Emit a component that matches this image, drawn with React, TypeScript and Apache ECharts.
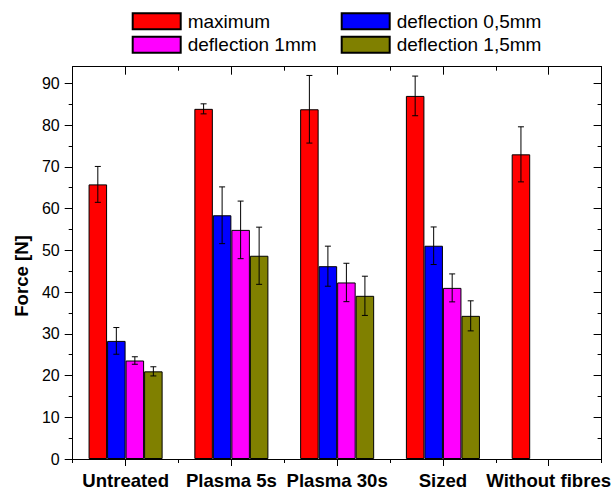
import React, { useEffect, useRef } from "react";
import * as echarts from "echarts";

// Sample groups along the x axis
const categories = ["Untreated", "Plasma 5s", "Plasma 30s", "Sized", "Without fibres"];

// Mean force [N] per group and its standard deviation
const maximum = [65.8, 83.9, 83.8, 87.0, 73.0];
const maximumErr = [4.3, 1.2, 8.1, 4.75, 6.6];
const deflection05 = [28.3, 58.4, 46.2, 51.1, null];
const deflection05Err = [3.2, 6.8, 4.8, 4.5, null];
const deflection1 = [23.6, 54.9, 42.3, 41.0, null];
const deflection1Err = [0.9, 6.9, 4.6, 3.35, null];
const deflection15 = [21.0, 48.7, 39.1, 34.3, null];
const deflection15Err = [1.1, 6.85, 4.7, 3.6, null];

// Y axis ticks
const yMajorTicks = [0, 10, 20, 30, 40, 50, 60, 70, 80, 90];
const yMinorTicks = [5, 15, 25, 35, 45, 55, 65, 75, 85];

const seriesNames = ["maximum", "deflection 0,5mm", "deflection 1mm", "deflection 1,5mm"];
const seriesColors = ["#ff0000", "#0000ff", "#ff00ff", "#808000"];

const FONT = "'Liberation Sans', Arial, Helvetica, sans-serif";
const BAR_SLOTS = 4;
const BAND_FILL = 0.7;

function errorSeries(values: (number | null)[], errs: (number | null)[], slot: number) {
  const data = values
    .map((v, i) => (v == null || errs[i] == null ? null : [i, v - (errs[i] as number), v + (errs[i] as number)]))
    .filter((d) => d !== null);
  return {
    type: "custom",
    xAxisIndex: 0,
    yAxisIndex: 0,
    z: 10,
    silent: true,
    data,
    encode: { x: 0, y: [1, 2] },
    renderItem: (_params: any, api: any) => {
      const idx = api.value(0);
      const lo = api.coord([idx, api.value(1)]);
      const hi = api.coord([idx, api.value(2)]);
      const band = api.size([1, 0])[0];
      const bw = (band * BAND_FILL) / BAR_SLOTS;
      const cx = lo[0] + (slot - (BAR_SLOTS - 1) / 2) * bw;
      const cap = 3;
      const style = { stroke: "#000", lineWidth: 1 };
      return {
        type: "group",
        children: [
          { type: "line", shape: { x1: cx, y1: lo[1], x2: cx, y2: hi[1] }, style },
          { type: "line", shape: { x1: cx - cap, y1: hi[1], x2: cx + cap, y2: hi[1] }, style },
          { type: "line", shape: { x1: cx - cap, y1: lo[1], x2: cx + cap, y2: lo[1] }, style },
        ],
      };
    },
  };
}

function barSeries(name: string, values: (number | null)[], color: string) {
  return {
    name,
    type: "bar",
    xAxisIndex: 0,
    yAxisIndex: 0,
    data: values,
    barGap: "0%",
    barCategoryGap: "30%",
    itemStyle: { color, borderColor: "#000", borderWidth: 1 },
  };
}

const lineStyle = { color: "#000", width: 1 };

export default function App() {
  const ref = useRef<HTMLDivElement>(null);

  useEffect(() => {
    if (!ref.current) return;
    const chart = echarts.init(ref.current, null, { renderer: "svg" });

    const yBase = {
      type: "value",
      min: 0,
      max: 94,
      interval: 10,
      splitLine: { show: false },
    };

    const xBase = {
      type: "category",
      data: categories,
      splitLine: { show: false },
    };

    const legendBase = {
      orient: "vertical",
      top: 6.8,
      icon: "rect",
      itemWidth: 48,
      itemHeight: 16,
      itemGap: 4.4,
      textStyle: { fontFamily: FONT, fontSize: 19, color: "#000", padding: [0, 0, 0, 2] },
      selectedMode: false,
    };

    chart.setOption({
      animation: false,
      backgroundColor: "#fff",
      grid: { left: 72.7, right: 11.3, top: 66.7, bottom: 31, containLabel: false },
      legend: [
        { ...legendBase, left: 126.7, data: [seriesNames[0], seriesNames[2]] },
        { ...legendBase, left: 335.7, data: [seriesNames[1], seriesNames[3]] },
      ],
      xAxis: [
        {
          ...xBase,
          position: "bottom",
          axisLine: { show: true, onZero: false, lineStyle },
          axisTick: { show: true, alignWithLabel: true, length: 7, inside: false, lineStyle },
          axisLabel: {
            show: true,
            interval: 0,
            margin: 12,
            fontFamily: FONT,
            fontSize: 18.6,
            fontWeight: "bold",
            color: "#000",
          },
        },
        {
          ...xBase,
          position: "bottom",
          axisLine: { show: false, onZero: false },
          axisTick: { show: true, alignWithLabel: false, length: 4, inside: false, lineStyle },
          axisLabel: { show: false },
        },
        {
          ...xBase,
          position: "top",
          axisLine: { show: true, onZero: false, lineStyle },
          axisTick: { show: true, alignWithLabel: true, length: 8, inside: true, lineStyle },
          axisLabel: { show: false },
        },
        {
          ...xBase,
          position: "top",
          axisLine: { show: false, onZero: false },
          axisTick: { show: true, alignWithLabel: false, length: 4, inside: true, lineStyle },
          axisLabel: { show: false },
        },
      ],
      yAxis: [
        {
          ...yBase,
          position: "left",
          axisLine: { show: true, lineStyle },
          axisTick: { show: true, length: 8, inside: false, lineStyle, customValues: yMajorTicks },
          axisLabel: {
            show: true,
            margin: 13,
            fontFamily: FONT,
            fontSize: 16,
            color: "#000",
            customValues: yMajorTicks,
          },
        },
        {
          ...yBase,
          position: "left",
          axisLine: { show: false },
          axisTick: { show: true, length: 4, inside: false, lineStyle, customValues: yMinorTicks },
          axisLabel: { show: false },
        },
        {
          ...yBase,
          position: "right",
          axisLine: { show: true, lineStyle },
          axisTick: { show: true, length: 8, inside: true, lineStyle, customValues: yMajorTicks },
          axisLabel: { show: false },
        },
        {
          ...yBase,
          position: "right",
          axisLine: { show: false },
          axisTick: { show: true, length: 4, inside: true, lineStyle, customValues: yMinorTicks },
          axisLabel: { show: false },
        },
      ],
      graphic: [
        {
          type: "text",
          x: 21.7,
          y: 276,
          rotation: Math.PI / 2,
          style: {
            text: "Force [N]",
            fontFamily: FONT,
            fontSize: 18.6,
            fontWeight: "bold",
            fill: "#000",
            textAlign: "center",
            textVerticalAlign: "middle",
          },
        },
      ],
      series: [
        barSeries(seriesNames[0], maximum, seriesColors[0]),
        barSeries(seriesNames[1], deflection05, seriesColors[1]),
        barSeries(seriesNames[2], deflection1, seriesColors[2]),
        barSeries(seriesNames[3], deflection15, seriesColors[3]),
        errorSeries(maximum, maximumErr, 0),
        errorSeries(deflection05, deflection05Err, 1),
        errorSeries(deflection1, deflection1Err, 2),
        errorSeries(deflection15, deflection15Err, 3),
      ],
    });

    return () => chart.dispose();
  }, []);

  return (
    <div
      ref={ref}
      style={{ position: "fixed", left: 0, top: 0, width: 614, height: 490, background: "#fff" }}
    />
  );
}
